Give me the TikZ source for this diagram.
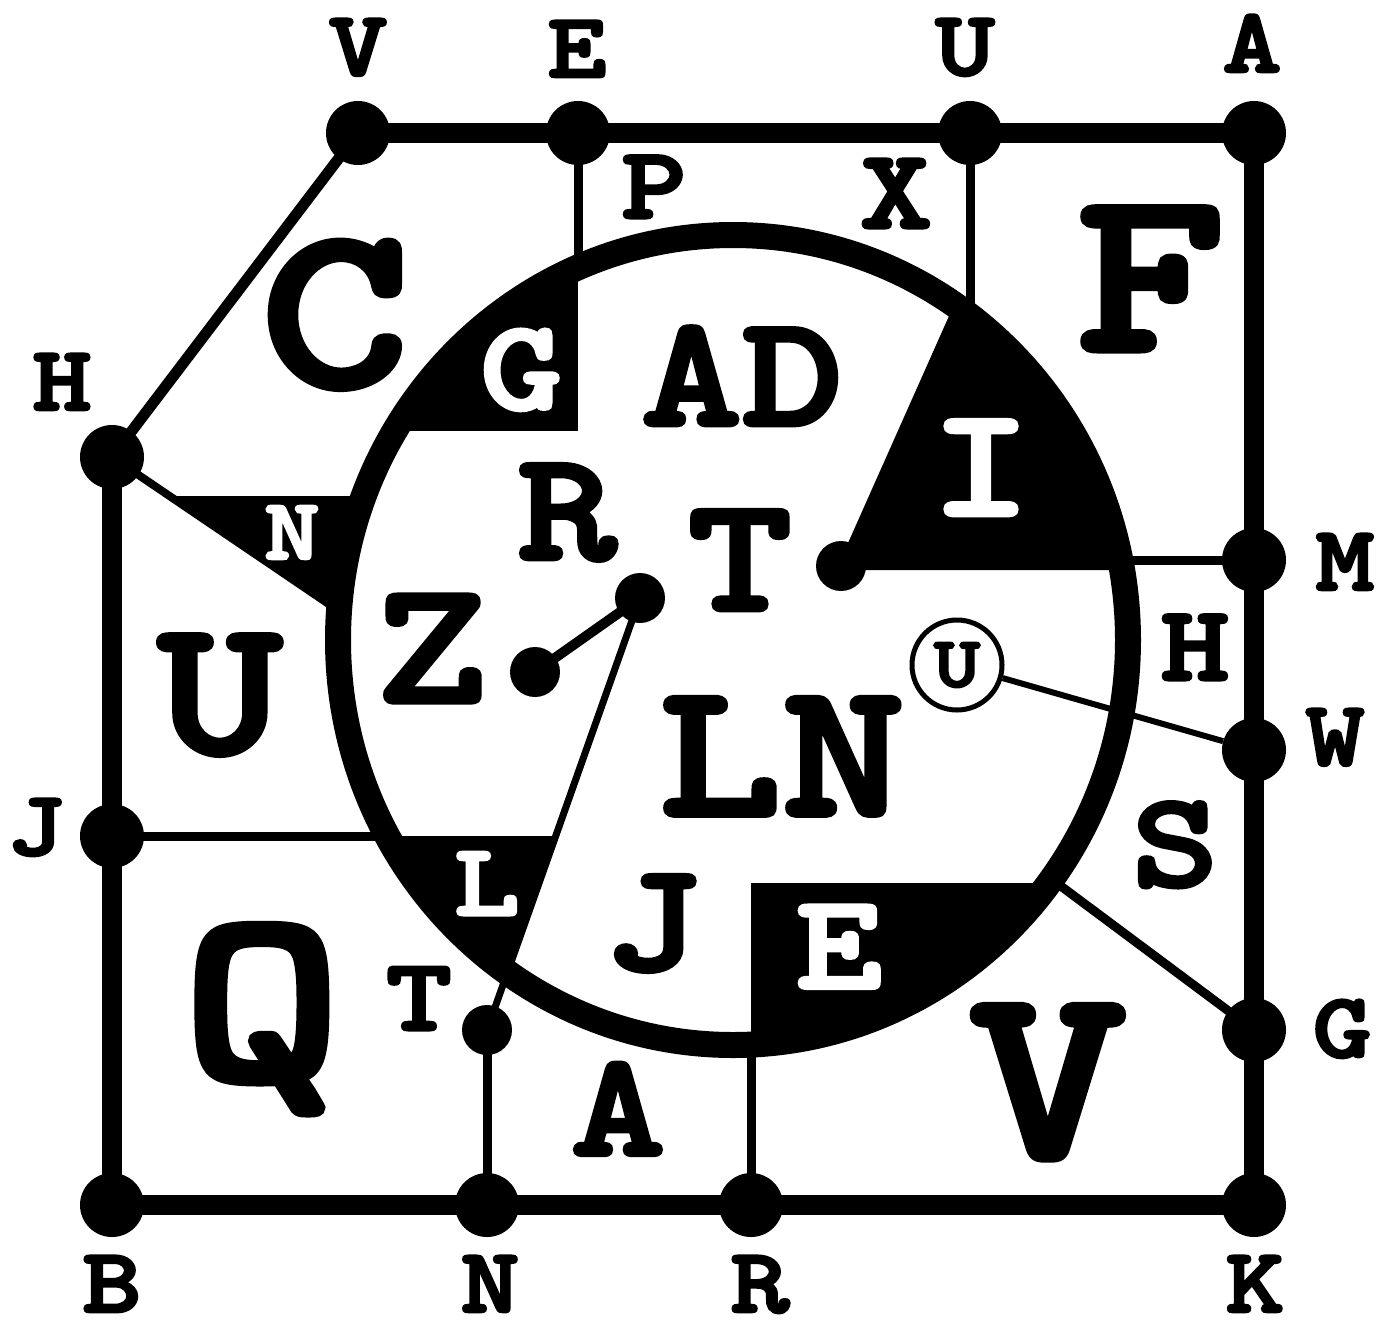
\documentclass[tikz,border=0pt]{standalone}
\usepackage{fontspec}
\newfontfamily\slab{lmmonolt10-bold.otf}[FakeStretch=1.22, FakeBold=3]
\newcommand{\fsz}[1]{\fontsize{#1pt}{#1pt}\selectfont\slab}
\tikzset{
  frame/.style={line width=20pt},
  thin/.style={line width=9pt},
  bigdot/.style={circle, fill=black, inner sep=0pt, minimum size=64pt},
  smalldot/.style={circle, fill=black, inner sep=0pt, minimum size=50pt},
  lbl/.style={inner sep=0pt, anchor=base},
  wlbl/.style={inner sep=0pt, anchor=base, text=white},
}
\begin{document}
\begin{tikzpicture}[x=1pt,y=-1pt]
\useasboundingbox (0,0) rectangle (1384,1323);
\fill[white] (0,0) rectangle (1384,1323);
% frame dots
\node[bigdot] (V) at (358,133) {};
\node[bigdot] (E) at (578,133) {};
\node[bigdot] (U) at (970,133) {};
\node[bigdot] (A) at (1254,133) {};
\node[bigdot] (H) at (112,457) {};
\node[bigdot] (J) at (112,836) {};
\node[bigdot] (B) at (112,1205) {};
\node[bigdot] (N) at (487,1205) {};
\node[bigdot] (R) at (751,1205) {};
\node[bigdot] (K) at (1254,1205) {};
\node[bigdot] (M) at (1254,560) {};
\node[bigdot] (W) at (1254,750) {};
\node[bigdot] (G) at (1254,1030) {};
\node[smalldot] (dN) at (487,1030) {};
\coordinate (cen) at (733,640);
\coordinate (eE) at (578,280);
\coordinate (eU) at (970,320);
\coordinate (eM) at (1110,560);
\coordinate (eJ) at (395,836);
\coordinate (eR) at (751,1030);
\coordinate (eG) at (1050,878);
\coordinate (eH) at (345,615);
% frame
\draw[frame] (V.center) -- (A.center) -- (K.center) -- (B.center) -- (H.center);
\draw[line width=11pt] (H.center) -- (V.center);
% thin connectors
\draw[thin] (E.center) -- (eE);
\draw[thin] (U.center) -- (eU);
\draw[thin] (M.center) -- (eM);
\draw[thin] (J.center) -- (eJ);
\draw[thin] (R.center) -- (eR);
\draw[thin] (N.center) -- (dN.center);
\draw[thin] (G.center) -- (eG);
\draw[line width=8pt] (H.center) -- (eH);
% N triangle
\fill (168,496) -- (362,496) -- (362,627) -- cycle;
% circle interior
\fill[white] (cen) ellipse [x radius=395, y radius=405];
\begin{scope}
  \clip (cen) ellipse [x radius=395, y radius=405];
  \fill (300,200) rectangle (578,431);
  \fill (836,570) -- (965,280) -- (1200,280) -- (1200,570) -- cycle;
  \fill (300,836) -- (556,836) -- (469,1085) -- (300,1085) -- cycle;
  \fill (751,883) rectangle (1200,1100);
\end{scope}
% inner dots
\node[smalldot] (dT) at (841,566) {};
\node[smalldot] (dC) at (640,598) {};
\node[smalldot] (dZ) at (535,672) {};
\draw[line width=7pt] (dC.center) -- (dN.center);
\draw[line width=10pt] (dC.center) -- (dZ.center);
\draw[line width=26pt] (cen) ellipse [x radius=395, y radius=405];
\node[circle, draw, fill=white, line width=5pt, inner sep=0pt, minimum size=90pt, font=\fsz{72}] (cu) at (957,665) {U};
\draw[line width=6pt] (cu) -- (W);
% region labels
\node[lbl, font=\fsz{233}] (tC) at (335,386) {C};
\node[lbl, font=\fsz{233}] (tF) at (1151,350) {F};
\node[wlbl, font=\fsz{128}] (tG) at (521,409) {G};
\node[lbl, font=\fsz{158}] (tAD) at (742,425) {AD};
\node[wlbl, font=\fsz{155}] (tI) at (981,515) {I};
\node[lbl, font=\fsz{155}] (tR) at (567,559) {R};
\node[lbl, font=\fsz{163}] (tT) at (740,610) {T};
\node[lbl, font=\fsz{175}] (tZ) at (432,702) {Z};
\node[lbl, font=\fsz{193}] (tU) at (220,753) {U};
\node[lbl, font=\fsz{192}] (tLN) at (782,815) {LN};
\node[lbl, font=\fsz{107}] (tH) at (1195,680) {H};
\node[lbl, font=\fsz{135}] (tS) at (1175,886) {S};
\node[lbl, font=\fsz{155}] (tJ) at (653,970) {J};
\node[wlbl, font=\fsz{135}] (tE) at (839,988) {E};
\node[lbl, font=\fsz{248}] (tV) at (1048,1157) {V};
\node[lbl, font=\fsz{148}] (tA) at (618,1155) {A};
\node[lbl, font=\fsz{250}] (tQ) at (262,1080) {Q};
\node[lbl, font=\fsz{103}] (tT2) at (419,1030) {T};
\node[wlbl, font=\fsz{103}] (tL) at (487,915) {L};
\node[wlbl, font=\fsz{87}] (tN) at (292,559) {N};
\node[lbl, font=\fsz{102}] (tP) at (654,218) {P};
\node[lbl, font=\fsz{113}] (tX) at (896,228) {X};
% outer labels
\node[lbl, font=\fsz{92}] (lV) at (358,75) {V};
\node[lbl, font=\fsz{92}] (lE) at (577,77) {E};
\node[lbl, font=\fsz{92}] (lU) at (965,75) {U};
\node[lbl, font=\fsz{92}] (lA) at (1252,72) {A};
\node[lbl, font=\fsz{92}] (lH) at (62,410) {H};
\node[lbl, font=\fsz{92}] (lJ) at (36,855) {J};
\node[lbl, font=\fsz{92}] (lB) at (112,1312) {B};
\node[lbl, font=\fsz{92}] (lN) at (490,1312) {N};
\node[lbl, font=\fsz{92}] (lR) at (760,1312) {R};
\node[lbl, font=\fsz{92}] (lK) at (1255,1312) {K};
\node[lbl, font=\fsz{92}] (lM) at (1345,590) {M};
\node[lbl, font=\fsz{92}] (lW) at (1335,765) {W};
\node[lbl, font=\fsz{92}] (lG) at (1342,1057) {G};
\end{tikzpicture}
\end{document}
